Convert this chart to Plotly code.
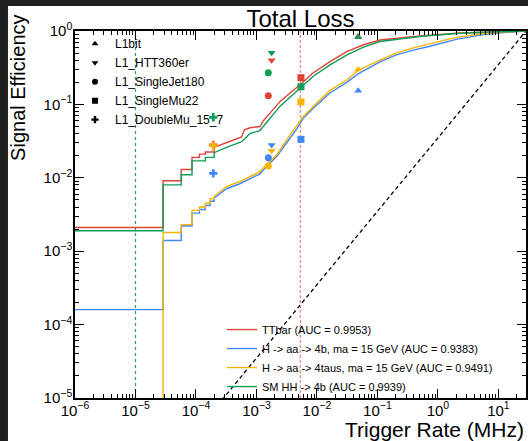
import plotly.graph_objects as go

# ---------------- data ----------------
ttbar_rate = [1e-6, 2.86e-5, 2.86e-5, 5.7e-5, 5.7e-5, 8.6e-5, 8.6e-5, 1.14e-4, 1.14e-4, 1.43e-4, 1.43e-4,
              2.0e-4, 2.0e-4, 3.2e-4, 4.3e-4, 5.7e-4, 6.3e-4, 7.8e-4, 1.14e-3, 1.3e-3, 1.67e-3, 2.44e-3,
              3.58e-3, 5.2e-3, 8.6e-3, 1.64e-2, 3.1e-2, 5.75e-2, 0.11, 0.5, 2.3, 10, 28.6]
ttbar_eff = [2.1e-3, 2.1e-3, 9.1e-3, 9.1e-3, 1.3e-2, 1.3e-2, 1.9e-2, 1.9e-2, 2.1e-2, 2.1e-2, 2.25e-2,
             2.25e-2, 2.6e-2, 3.0e-2, 3.3e-2, 3.6e-2, 4.5e-2, 4.8e-2, 5.0e-2, 6.0e-2, 7.6e-2, 0.109,
             0.143, 0.184, 0.268, 0.382, 0.522, 0.644, 0.754, 0.855, 0.94, 0.98, 1.0]

hh_rate = [1e-6, 2.86e-5, 2.86e-5, 5.7e-5, 5.7e-5, 8.6e-5, 8.6e-5, 1.43e-4, 1.43e-4, 2.0e-4, 2.0e-4,
           3.2e-4, 5.7e-4, 7.8e-4, 1.14e-3, 1.67e-3, 2.44e-3, 3.58e-3, 5.2e-3, 8.6e-3, 1.64e-2,
           3.1e-2, 5.75e-2, 0.11, 0.5, 2.3, 10, 28.6]
hh_eff = [1.9e-3, 1.9e-3, 8.0e-3, 8.0e-3, 1.1e-2, 1.1e-2, 1.7e-2, 1.7e-2, 1.9e-2, 1.9e-2, 2.2e-2,
          2.6e-2, 3.1e-2, 4.0e-2, 4.4e-2, 6.4e-2, 9.4e-2, 0.125, 0.165, 0.24, 0.345,
          0.47, 0.6, 0.72, 0.84, 0.93, 0.975, 1.0]

h4b_rate = [1e-6, 2.86e-5, 2.86e-5, 5.7e-5, 5.7e-5, 8.6e-5, 8.6e-5, 1.14e-4, 1.14e-4, 1.43e-4, 1.43e-4,
            1.71e-4, 1.71e-4, 2.0e-4, 2.0e-4, 3.2e-4, 5.3e-4, 7.8e-4, 1.14e-3, 1.55e-3, 2.16e-3,
            3.16e-3, 4.6e-3, 5.9e-3, 8.6e-3, 1.64e-2, 3.1e-2, 0.048, 0.11, 0.2, 0.39, 0.74, 2, 5, 10, 28.6]
h4b_eff = [1.6e-4, 1.6e-4, 1.4e-3, 1.4e-3, 2.2e-3, 2.2e-3, 3.3e-3, 3.3e-3, 3.7e-3, 3.7e-3, 4.2e-3,
           4.2e-3, 4.8e-3, 4.8e-3, 5.3e-3, 7.1e-3, 8.3e-3, 9.7e-3, 1.13e-2, 1.5e-2, 1.95e-2,
           3.0e-2, 4.6e-2, 6.4e-2, 8.8e-2, 0.143, 0.2, 0.26, 0.38, 0.47, 0.55, 0.62, 0.77, 0.88, 0.94, 1.0]

h4tau_rate = [1e-6, 2.86e-5, 2.86e-5, 5.7e-5, 5.7e-5, 8.6e-5, 8.6e-5, 1.14e-4, 1.14e-4, 1.43e-4, 1.43e-4,
              1.71e-4, 1.71e-4, 2.0e-4, 2.0e-4, 3.2e-4, 5.3e-4, 7.8e-4, 1.14e-3, 1.55e-3, 2.16e-3,
              3.16e-3, 4.6e-3, 5.9e-3, 8.6e-3, 1.64e-2, 3.1e-2, 0.048, 0.11, 0.2, 0.39, 0.74, 2, 5, 10, 28.6]
h4tau_eff = [1e-7, 1e-7, 1.8e-3, 1.8e-3, 2.3e-3, 2.3e-3, 3.6e-3, 3.6e-3, 4.0e-3, 4.0e-3, 4.5e-3,
             4.5e-3, 5.2e-3, 5.2e-3, 5.6e-3, 7.6e-3, 8.9e-3, 1.04e-2, 1.21e-2, 1.59e-2, 2.05e-2,
             3.28e-2, 4.97e-2, 6.8e-2, 9.3e-2, 0.155, 0.215, 0.29, 0.40, 0.50, 0.59, 0.67, 0.82, 0.91, 0.96, 1.0]

# L1 seeds: rate and efficiency per sample  (order: TTbar, H->4b, H->4taus, HH->4b)
seed_names = ["L1bit", "L1_HTT360er", "L1_SingleJet180", "L1_SingleMu22", "L1_DoubleMu_15_7"]
seed_symbols = ["triangle-up", "triangle-down", "circle", "square", "cross"]
seed_rate = [0.048, 1.78e-3, 1.57e-3, 5.44e-3, 1.93e-4]
seed_eff_ttbar = [0.84, 0.40, 0.131, 0.231, 0.028]
seed_eff_h4b = [0.154, 0.028, 0.0188, 0.0334, 0.0115]
seed_eff_h4tau = [0.30, 0.0234, 0.0145, 0.108, 0.0274]
seed_eff_hh = [0.82, 0.506, 0.27, 0.174, 0.0667]

diag_rate = [1e-6, 28.6]
diag_eff = [1e-6 / 28.6, 1.0]
thr_green = 1e-5
thr_red = 5.3e-3

x_tickvals = [1e-6, 1e-5, 1e-4, 1e-3, 1e-2, 1e-1, 1, 10]
x_ticktext = ["10<sup>−6</sup>", "10<sup>−5</sup>", "10<sup>−4</sup>", "10<sup>−3</sup>",
              "10<sup>−2</sup>", "10<sup>−1</sup>", "10<sup>0</sup>", "10<sup>1</sup>"]
y_tickvals = [1e-5, 1e-4, 1e-3, 1e-2, 1e-1, 1]
y_ticktext = ["10<sup>−5</sup>", "10<sup>−4</sup>", "10<sup>−3</sup>", "10<sup>−2</sup>",
              "10<sup>−1</sup>", "10<sup>0</sup>"]

labels = ["TTbar (AUC = 0.9953)",
          "H -> aa -> 4b, ma = 15 GeV (AUC = 0.9383)",
          "H -> aa -> 4taus, ma = 15 GeV (AUC = 0.9491)",
          "SM HH -> 4b (AUC = 0.9939)"]
colors = ["#DB4437", "#4285F4", "#F4B400", "#0F9D58"]

# ---------------- figure ----------------
fig = go.Figure()
FONT = "Liberation Sans, Arial, Helvetica, sans-serif"

fig.add_trace(go.Scatter(x=[thr_green, thr_green], y=[1e-5, 1], mode="lines",
                         line=dict(color="#2E9E5B", width=1.2, dash="dot"), showlegend=False))
fig.add_trace(go.Scatter(x=[thr_red, thr_red], y=[1e-5, 1], mode="lines",
                         line=dict(color="#EE6A65", width=1, dash="3px,2px"), showlegend=False))
fig.add_trace(go.Scatter(x=diag_rate, y=diag_eff, mode="lines",
                         line=dict(color="black", width=1.3, dash="4px,3px"), showlegend=False))

curves = [(ttbar_rate, ttbar_eff), (h4b_rate, h4b_eff), (h4tau_rate, h4tau_eff), (hh_rate, hh_eff)]
for (xr, ye), lab, col in zip(curves, labels, colors):
    fig.add_trace(go.Scatter(x=xr, y=ye, mode="lines", name=lab, legend="legend2",
                             line=dict(color=col, width=1.4)))

seed_effs = [seed_eff_ttbar, seed_eff_h4b, seed_eff_h4tau, seed_eff_hh]
for effs, col in zip(seed_effs, colors):
    for i in range(len(seed_names)):
        fig.add_trace(go.Scatter(x=[seed_rate[i]], y=[effs[i]], mode="markers", showlegend=False,
                                 marker=dict(symbol=seed_symbols[i], color=col, size=7, line=dict(width=0))))

for name, sym in zip(seed_names, seed_symbols):
    fig.add_trace(go.Scatter(x=[None], y=[None], mode="markers", name=name, legend="legend",
                             marker=dict(symbol=sym, color="black", size=6)))

axis_common = dict(type="log", showline=True, linecolor="black", linewidth=1.5, mirror="allticks",
                   ticks="inside", ticklen=9, tickwidth=1, tickcolor="black",
                   showgrid=False, zeroline=False, ticklabelstandoff=-2,
                   tickfont=dict(family=FONT, size=15, color="black"),
                   minor=dict(ticks="inside", ticklen=4, tickcolor="black", dtick="D1", showgrid=False))

DARK = "#1e1e1e"
fig.update_layout(
    width=528, height=441,
    margin=dict(l=75, r=2, t=31, b=43, autoexpand=False),
    paper_bgcolor="white", plot_bgcolor="white",
    font=dict(family=FONT, color="black"),
    xaxis=dict(range=[-6, 1.456], tickvals=x_tickvals, ticktext=x_ticktext, **axis_common),
    yaxis=dict(range=[-5, 0], tickvals=y_tickvals, ticktext=y_ticktext, **axis_common),
    title=dict(text="Total Loss", x=0.5, xref="paper", xanchor="center", y=1 - 19 / 441, yanchor="middle",
               font=dict(family=FONT, size=24, color="black")),
    legend=dict(x=0.0, y=1.005, xanchor="left", yanchor="top", bgcolor="rgba(0,0,0,0)",
                font=dict(family=FONT, size=12, color="black"), itemwidth=30, tracegroupgap=0),
    legend2=dict(x=0.326, y=0.226, xanchor="left", yanchor="top", bgcolor="rgba(0,0,0,0)",
                 font=dict(family=FONT, size=11, color="black"), itemwidth=30, tracegroupgap=0),
    shapes=[
        dict(type="rect", xref="paper", yref="paper", x0=-0.17, x1=-0.1486, y0=-0.2, y1=1.2,
             fillcolor=DARK, line=dict(width=0), layer="above"),
        dict(type="rect", xref="paper", yref="paper", x0=-0.17, x1=1.01, y0=1.068, y1=1.2,
             fillcolor=DARK, line=dict(width=0), layer="above"),
    ],
    annotations=[
        dict(text="Signal Efficiency", xref="paper", yref="paper", x=-0.1264, y=0.845, textangle=-90,
             xanchor="center", yanchor="middle",
             showarrow=False, font=dict(family=FONT, size=20, color="black")),
        dict(text="Trigger Rate (MHz)", xref="paper", yref="paper", x=1.0, y=-0.087, xanchor="right",
             yanchor="middle", showarrow=False, font=dict(family=FONT, size=21, color="black")),
    ],
)

fig.write_html("out.html")
